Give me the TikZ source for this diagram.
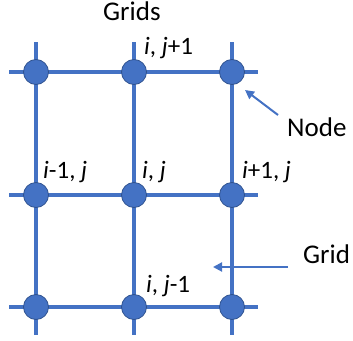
\documentclass[tikz,border=0pt]{standalone}
\usepackage{fontspec}
\setmainfont{Carlito}
\usetikzlibrary{arrows.meta}
\definecolor{gblue}{HTML}{4472C4}
\definecolor{gdark}{HTML}{2F528F}
\begin{document}
\begin{tikzpicture}[x=1pt,y=-1pt,
  gridline/.style={draw=gblue,line width=3.5pt},
  gnode/.style={circle,fill=gblue,draw=gdark,line width=0.8pt,minimum size=25pt,inner sep=0pt},
  lbl/.style={anchor=base west,inner sep=0pt,font=\fontsize{25}{30}\selectfont},
  big/.style={anchor=base west,inner sep=0pt,font=\fontsize{27}{32}\selectfont},
  pointer/.style={draw=gblue,line width=2pt,-{Triangle[length=9pt,width=9pt]}}]
\useasboundingbox (0,0) rectangle (353,340);
% grid lines
\foreach \y in {72,195,307} \draw[gridline] (9,\y) -- (258,\y);
\foreach \x in {36,134,232} \draw[gridline] (\x,42) -- (\x,335);
% nodes
\foreach \x/\c in {36/a,134/b,232/c}
  \foreach \y/\r in {72/1,195/2,307/3}
    \node[gnode] (n\c\r) at (\x,\y) {};
% labels
\node[big] (tg) at (103,20) {Grids};
\node[lbl] (l1) at (144,54) {\textit{i}, \textit{j}+1};
\node[lbl] (l2) at (43,178) {\textit{i}-1, \textit{j}};
\node[lbl] (l3) at (142,178) {\textit{i}, \textit{j}};
\node[lbl] (l4) at (242,178) {\textit{i}+1, \textit{j}};
\node[lbl] (l5) at (146,292) {\textit{i}, \textit{j}-1};
\node[big] (tn) at (287,136) {Node};
\node[big] (tgr) at (303,263) {Grid};
% pointers
\coordinate (pn1) at (278,115);
\coordinate (pn2) at (245,90);
\coordinate (pg1) at (288,267);
\coordinate (pg2) at (213,267);
\draw[pointer] (pn1) -- (pn2);
\draw[pointer] (pg1) -- (pg2);
\end{tikzpicture}
\end{document}
